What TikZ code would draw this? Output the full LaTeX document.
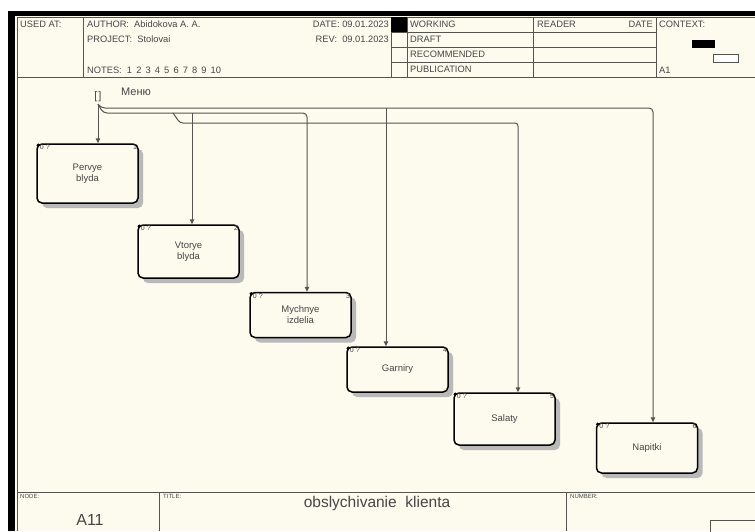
\documentclass[tikz,border=0pt]{standalone}
\usepackage{fontspec}
\setmainfont{Liberation Sans}
\usepackage{xcolor}
\usetikzlibrary{arrows.meta}
\usetikzlibrary{shadows}
\definecolor{papel}{RGB}{253,250,238}
\definecolor{tinta}{RGB}{70,70,70}
\definecolor{linha}{RGB}{85,85,80}
\tikzset{
  bloco/.style={draw=black, line width=1.5pt, rounded corners=5pt, fill=papel, minimum width=101pt, minimum height=#1, align=center, inner sep=0pt, text=tinta, font=\fontsize{9.5}{11}\selectfont, drop shadow={shadow xshift=5pt, shadow yshift=-5pt, fill=gray!55, opacity=1}},
  bloco/.default=50pt,
  canto/.style={inner sep=1.5pt, text=tinta, font=\fontsize{7}{8}\selectfont},
  cab/.style={inner sep=0pt, text=tinta, font=\fontsize{9.3}{11}\selectfont},
  miudo/.style={inner sep=0pt, text=tinta, font=\fontsize{6}{7}\selectfont},
  grade/.style={draw=linha, line width=0.8pt},
  seta/.style={draw=linha, line width=1pt, -{Triangle[length=5pt, width=4.5pt]}},
}

\begin{document}
\begin{tikzpicture}[x=1pt, y=-1pt]
  \useasboundingbox (0,0) rectangle (755,531);
  \fill[white] (0,0) rectangle (755,531);
  \fill[papel] (8,11) rectangle (755,531);
  % moldura
  \fill[black] (8,11) rectangle (755,16);
  \fill[black] (8,11) rectangle (15,531);
  \draw[grade] (17,531) -- (17,17) -- (755,17);
  % cabecalho
  \draw[grade] (17,77) -- (755,77);
  \foreach \x in {83,391,407,533,656} \draw[grade] (\x,17) -- (\x,77);
  \foreach \y in {32,47,62} \draw[grade] (391,\y) -- (656,\y);
  \fill[black] (391,17) rectangle (407,32);
  \fill[black] (692,40) rectangle (715,48);
  \draw[grade, fill=white] (713,54) rectangle (738,62);
  \node[cab, anchor=west] (usado) at (20,24) {USED AT:};
  \node[cab, anchor=west] (autor) at (87,24) {AUTHOR:\ \ Abidokova A. A.};
  \node[cab, anchor=west] (projeto) at (87,39) {PROJECT:\ \ Stolovai};
  \node[cab, anchor=west] (notas) at (87,70) {NOTES:\ \ 1\ \,2\ \,3\ \,4\ \,5\ \,6\ \,7\ \,8\ \,9\ \,10};
  \node[cab, anchor=east] (data) at (389,24) {DATE: 09.01.2023};
  \node[cab, anchor=east] (rev) at (389,39) {REV:\ \ 09.01.2023};
  \node[cab, anchor=west] (st1) at (410,24) {WORKING};
  \node[cab, anchor=west] (st2) at (410,39) {DRAFT};
  \node[cab, anchor=west] (st3) at (410,54) {RECOMMENDED};
  \node[cab, anchor=west] (st4) at (410,69) {PUBLICATION};
  \node[cab, anchor=west] (leitor) at (537,24) {READER};
  \node[cab, anchor=east] (dataL) at (653,24) {DATE};
  \node[cab, anchor=west] (contexto) at (659,24) {CONTEXT:};
  \node[cab, anchor=west] (folha) at (659,70) {A1};
  % rodape
  \draw[grade] (17,492) -- (755,492);
  \draw[grade] (159,492) -- (159,531);
  \draw[grade] (566,492) -- (566,531);
  \draw[grade] (710,520) rectangle (760,540);
  \node[miudo, anchor=north west] (nodo) at (20,494) {NODE:};
  \node[miudo, anchor=north west] (titulo) at (163,494) {TITLE:};
  \node[miudo, anchor=north west] (numero) at (570,494) {NUMBER:};
  \node[inner sep=0pt, text=tinta, font=\fontsize{16}{18}\selectfont] (noA) at (90,520) {A11};
  \node[inner sep=0pt, text=tinta, font=\fontsize{15.5}{18}\selectfont] (nome) at (377,503) {obslychivanie\ \ klienta};

  % blocos
  \node[bloco=59pt, label={[canto, anchor=north west, xshift=2pt]north west:0 ?}, label={[canto, anchor=north east]north east:1}] (b1) at (87.5,173.5) {Pervye\\blyda};
  \node[bloco=53pt, label={[canto, anchor=north west, xshift=2pt]north west:0 ?}, label={[canto, anchor=north east]north east:2}] (b2) at (188.5,251.5) {Vtorye\\blyda};
  \node[bloco=45pt, label={[canto, anchor=north west, xshift=2pt]north west:0 ?}, label={[canto, anchor=north east]north east:3}] (b3) at (300.5,315) {Mychnye\\izdelia};
  \node[bloco=45pt, label={[canto, anchor=north west, xshift=2pt]north west:0 ?}, label={[canto, anchor=north east]north east:4}] (b4) at (397.5,369.5) {Garniry};
  \node[bloco=52pt, label={[canto, anchor=north west, xshift=2pt]north west:0 ?}, label={[canto, anchor=north east]north east:5}] (b5) at (504.5,419) {Salaty};
  \node[bloco=50pt, label={[canto, anchor=north west, xshift=2pt]north west:0 ?}, label={[canto, anchor=north east]north east:6}] (b6) at (647,448) {Napitki};
  \foreach \i in {1,...,6} \fill (b\i.north west) ++(2,2) circle (1.8);

  % setas
  \node[cab, font=\fontsize{11}{12}\selectfont] (tunel) at (98,97) {[\kern1pt]};
  \node[cab, anchor=west, font=\fontsize{11}{12}\selectfont] (menu) at (121,92) {Меню};
  \coordinate (tun) at (98,104);
  \coordinate (barraA) at (101,108);
  \coordinate (barraB) at (103,113);
  \coordinate (desvio) at (173,113);
  \coordinate (barraC) at (180,123);
  \foreach \i/\dx in {1/10.5,2/3.5,3/6.5,4/-11.5,5/13.5,6/6}
    \coordinate (e\i) at ([xshift=\dx]b\i.north);
  \draw[seta] (tun) -- (e1);
  \draw[seta, rounded corners=4] (tun) -- (barraA) -| (e6);
  \draw[seta] (barraA -| e4) -- (e4);
  \draw[seta, rounded corners=4] (tun) -- (barraB) -| (e3);
  \draw[seta] (barraB -| e2) -- (e2);
  \draw[seta, rounded corners=3] (desvio) -- (barraC) -| (e5);
\end{tikzpicture}
\end{document}
